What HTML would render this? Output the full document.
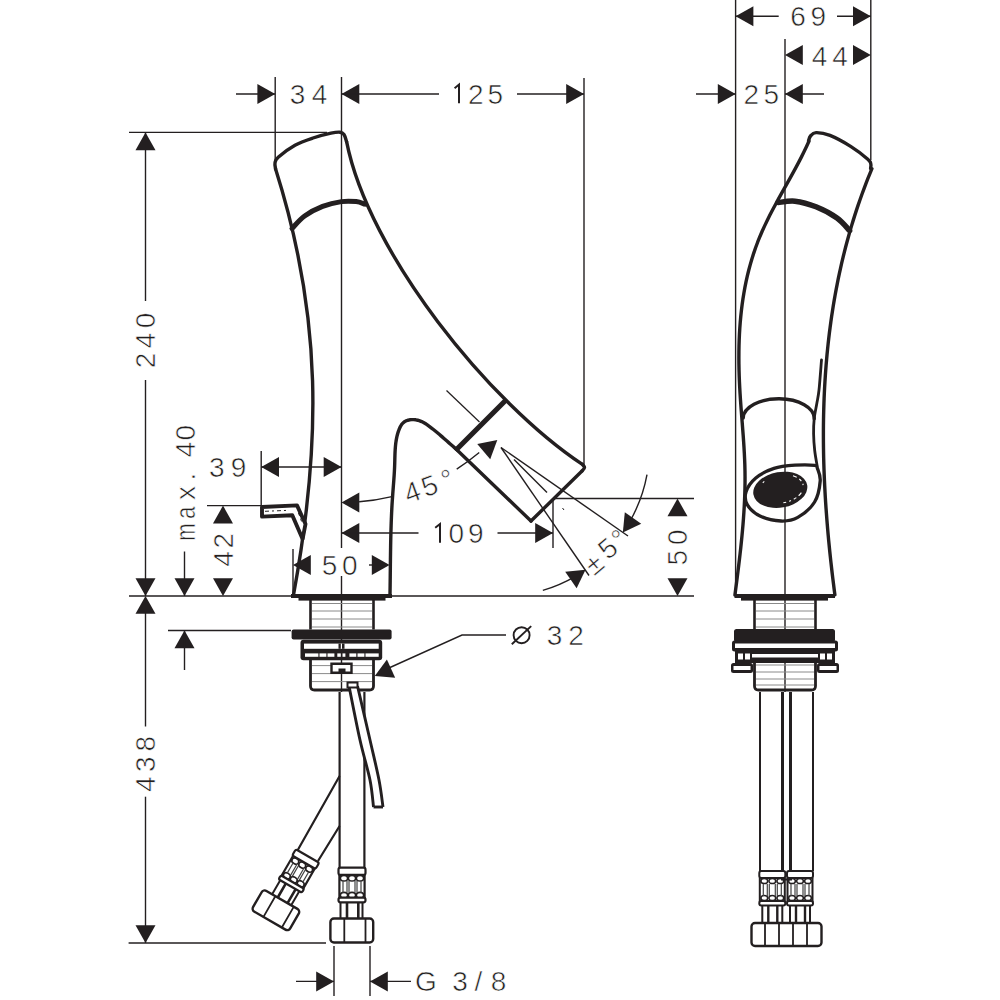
<!DOCTYPE html>
<html><head><meta charset="utf-8"><style>
html,body{margin:0;padding:0;background:#fff;width:1000px;height:1000px;overflow:hidden}
svg{display:block}
text{font-family:"Liberation Sans",sans-serif;fill:#231f20;stroke:#fff;stroke-width:0.6px}
</style></head><body>
<svg width="1000" height="1000" viewBox="0 0 1000 1000">
<line x1="275.2" y1="77" x2="275.2" y2="160" stroke="#231f20" stroke-width="1.4"/>
<line x1="341.5" y1="77" x2="341.5" y2="548" stroke="#231f20" stroke-width="1.4"/>
<line x1="341.5" y1="576" x2="341.5" y2="692" stroke="#231f20" stroke-width="1.4"/>
<line x1="584" y1="78" x2="584" y2="466" stroke="#231f20" stroke-width="1.4"/>
<line x1="236" y1="94" x2="275" y2="94" stroke="#231f20" stroke-width="1.4"/>
<path d="M275.2,94 L257.4,104 L257.4,84 Z" fill="#231f20"/>
<path d="M341.5,94 L359.3,84 L359.3,104 Z" fill="#231f20"/>
<line x1="341.5" y1="94" x2="439" y2="94" stroke="#231f20" stroke-width="1.4"/>
<line x1="517" y1="94" x2="584" y2="94" stroke="#231f20" stroke-width="1.4"/>
<path d="M584,94 L566.2,104 L566.2,84 Z" fill="#231f20"/>
<text x="297.6" y="104.1" font-size="28" text-anchor="middle">3</text>
<text x="319.6" y="104.1" font-size="28" text-anchor="middle">4</text>
<text x="475.8" y="103.8" font-size="28" text-anchor="middle">2</text>
<text x="495.4" y="103.8" font-size="28" text-anchor="middle">5</text>
<path d="M459,103.2 V84.6 L454.6,88.2" fill="none" stroke="#231f20" stroke-width="2" stroke-linejoin="miter"/>
<line x1="129" y1="132.4" x2="327" y2="132.4" stroke="#231f20" stroke-width="1.4"/>
<line x1="145.5" y1="132.4" x2="145.5" y2="301" stroke="#231f20" stroke-width="1.4"/>
<path d="M145.5,132.4 L155.5,150.2 L135.5,150.2 Z" fill="#231f20"/>
<line x1="145.5" y1="380" x2="145.5" y2="596" stroke="#231f20" stroke-width="1.4"/>
<path d="M145.5,596 L135.5,578.2 L155.5,578.2 Z" fill="#231f20"/>
<path d="M145.5,596 L155.5,613.8 L135.5,613.8 Z" fill="#231f20"/>
<line x1="145.5" y1="613" x2="145.5" y2="726.5" stroke="#231f20" stroke-width="1.4"/>
<line x1="145.5" y1="796.7" x2="145.5" y2="943" stroke="#231f20" stroke-width="1.4"/>
<path d="M145.5,943 L135.5,925.2 L155.5,925.2 Z" fill="#231f20"/>
<g transform="translate(154,0) rotate(-90)"><text x="-360.5" y="0.8" font-size="28" text-anchor="middle">2</text><text x="-340.6" y="0.8" font-size="28" text-anchor="middle">4</text><text x="-320.4" y="0.8" font-size="28" text-anchor="middle">0</text></g>
<g transform="translate(153.7,0) rotate(-90)"><text x="-784.1" y="0.8" font-size="28" text-anchor="middle">4</text><text x="-764.1" y="0.8" font-size="28" text-anchor="middle">3</text><text x="-743.6" y="0.8" font-size="28" text-anchor="middle">8</text></g>
<line x1="129" y1="596" x2="292" y2="596" stroke="#231f20" stroke-width="1.4"/>
<line x1="391" y1="596" x2="694" y2="596" stroke="#231f20" stroke-width="1.4"/>
<line x1="168" y1="630.5" x2="291" y2="630.5" stroke="#231f20" stroke-width="1.4"/>
<line x1="128.6" y1="943" x2="326" y2="943" stroke="#231f20" stroke-width="1.4"/>
<line x1="184.5" y1="551.5" x2="184.5" y2="596" stroke="#231f20" stroke-width="1.4"/>
<path d="M184.5,596 L174.5,578.2 L194.5,578.2 Z" fill="#231f20"/>
<path d="M184.5,630.5 L194.5,648.3 L174.5,648.3 Z" fill="#231f20"/>
<line x1="184.5" y1="630.5" x2="184.5" y2="670" stroke="#231f20" stroke-width="1.4"/>
<g transform="translate(193.7,0) rotate(-90)"><text transform="translate(-532.1,0.8) scale(0.74,1)" font-size="28" text-anchor="middle">m</text><text transform="translate(-512.7,0.8) scale(0.8,1)" font-size="28" text-anchor="middle">a</text><text x="-493.1" y="0.8" font-size="28" text-anchor="middle">x</text><text x="-476.5" y="0.8" font-size="28" text-anchor="middle">.</text><text x="-449.7" y="0.8" font-size="28" text-anchor="middle">4</text><text x="-432.7" y="0.8" font-size="28" text-anchor="middle">0</text></g>
<path d="M223,505.6 L233,523.4 L213,523.4 Z" fill="#231f20"/>
<path d="M223,596 L213,578.2 L233,578.2 Z" fill="#231f20"/>
<g transform="translate(231.7,0) rotate(-90)"><text x="-559" y="0.8" font-size="28" text-anchor="middle">4</text><text x="-540.6" y="0.8" font-size="28" text-anchor="middle">2</text></g>
<line x1="207" y1="505.6" x2="261" y2="505.6" stroke="#231f20" stroke-width="1.4"/>
<line x1="261.2" y1="451" x2="261.2" y2="506" stroke="#231f20" stroke-width="1.4"/>
<line x1="261.2" y1="467" x2="341.5" y2="467" stroke="#231f20" stroke-width="1.4"/>
<path d="M261.2,467 L279,457 L279,477 Z" fill="#231f20"/>
<path d="M341.5,467 L323.7,477 L323.7,457 Z" fill="#231f20"/>
<text x="216.8" y="477.3" font-size="28" text-anchor="middle">3</text>
<text x="238.6" y="477.3" font-size="28" text-anchor="middle">9</text>
<line x1="293" y1="549" x2="293" y2="595" stroke="#231f20" stroke-width="1.4"/>
<path d="M293,565 L310.8,555 L310.8,575 Z" fill="#231f20"/>
<path d="M389.6,565 L371.8,575 L371.8,555 Z" fill="#231f20"/>
<line x1="369" y1="565" x2="373" y2="565" stroke="#231f20" stroke-width="1.4"/>
<text x="329.5" y="574.8" font-size="28" text-anchor="middle">5</text>
<text x="349.8" y="574.8" font-size="28" text-anchor="middle">0</text>
<path d="M341.5,502.5 L359.3,492.5 L359.3,512.5 Z" fill="#231f20"/>
<path d="M359.12,501.81 A213.5,213.5 0 0 0 391.84,496.6" fill="none" stroke="#231f20" stroke-width="1.4" />
<path d="M497.3,440 L490.21,459.15 L477.26,443.91 Z" fill="#231f20"/>
<path d="M456.71,469.06 A213.5,213.5 0 0 0 479.24,452.55" fill="none" stroke="#231f20" stroke-width="1.4" />
<g transform="translate(415.2,500.4) rotate(-20)"><text x="0" y="0.8" font-size="28" text-anchor="middle">4</text><text x="18.6" y="0.8" font-size="28" text-anchor="middle">5</text><text x="37.6" y="0.8" font-size="28" text-anchor="middle">°</text></g>
<path d="M341.5,533 L359.3,523 L359.3,543 Z" fill="#231f20"/>
<line x1="341.5" y1="533" x2="418.5" y2="533" stroke="#231f20" stroke-width="1.4"/>
<line x1="497.5" y1="533" x2="553" y2="533" stroke="#231f20" stroke-width="1.4"/>
<path d="M553,533 L535.2,543 L535.2,523 Z" fill="#231f20"/>
<line x1="553" y1="500" x2="553" y2="548" stroke="#231f20" stroke-width="1.4"/>
<text x="456.4" y="543.3" font-size="28" text-anchor="middle">0</text>
<text x="475.9" y="543.3" font-size="28" text-anchor="middle">9</text>
<path d="M440,542.7 V524 L435.2,527.8" fill="none" stroke="#231f20" stroke-width="2" stroke-linejoin="miter"/>
<line x1="554.5" y1="498.5" x2="694" y2="498.5" stroke="#231f20" stroke-width="1.4"/>
<path d="M677.5,498.5 L687.5,516.3 L667.5,516.3 Z" fill="#231f20"/>
<path d="M677.5,596 L667.5,578.2 L687.5,578.2 Z" fill="#231f20"/>
<g transform="translate(686.4,0) rotate(-90)"><text x="-557.8" y="0.8" font-size="28" text-anchor="middle">5</text><text x="-537.2" y="0.8" font-size="28" text-anchor="middle">0</text></g>
<line x1="501" y1="447.5" x2="628" y2="536" stroke="#231f20" stroke-width="1.4"/>
<line x1="501" y1="447.5" x2="589" y2="575.5" stroke="#231f20" stroke-width="1.4"/>
<line x1="514" y1="459.5" x2="547" y2="492.5" stroke="#231f20" stroke-width="1.4"/>
<line x1="562.5" y1="508" x2="564" y2="510" stroke="#231f20" stroke-width="1"/>
<path d="M647,474.65 A149,149 0 0 1 629.54,522" fill="none" stroke="#231f20" stroke-width="1.4" />
<path d="M622.85,532.54 L624.8,512.21 L641.22,523.63 Z" fill="#231f20"/>
<path d="M542.82,590.36 A149,149 0 0 0 575,576.54" fill="none" stroke="#231f20" stroke-width="1.4" />
<path d="M585.54,569.85 L576.63,588.22 L565.21,571.8 Z" fill="#231f20"/>
<g transform="translate(613.5,555.1) rotate(-40)"><text x="-20.5" y="3.8" font-size="28" text-anchor="middle">±</text><text x="0" y="0.8" font-size="28" text-anchor="middle">5</text><text x="15.4" y="0.8" font-size="28" text-anchor="middle">°</text></g>
<path d="M380,672 L462,635 L506,635" fill="none" stroke="#231f20" stroke-width="1.4" />
<path d="M374.8,676 L386.92,659.57 L395.14,677.81 Z" fill="#231f20"/>
<text x="554.5" y="644.8" font-size="28" text-anchor="middle">3</text>
<text x="576" y="644.8" font-size="28" text-anchor="middle">2</text>
<circle cx="521.6" cy="635.2" r="8" fill="none" stroke="#231f20" stroke-width="1.9"/><line x1="511.8" y1="644.2" x2="531.2" y2="626.1" stroke="#231f20" stroke-width="1.9"/>
<line x1="334" y1="946" x2="334" y2="996" stroke="#231f20" stroke-width="1.4"/>
<line x1="370" y1="946" x2="370" y2="996" stroke="#231f20" stroke-width="1.4"/>
<line x1="296" y1="981.4" x2="334" y2="981.4" stroke="#231f20" stroke-width="1.4"/>
<path d="M334,981.4 L316.2,991.4 L316.2,971.4 Z" fill="#231f20"/>
<path d="M370,981.4 L387.8,971.4 L387.8,991.4 Z" fill="#231f20"/>
<line x1="370" y1="981.4" x2="411" y2="981.4" stroke="#231f20" stroke-width="1.4"/>
<text x="426" y="990.8" font-size="28" text-anchor="middle">G</text>
<text x="460" y="990.8" font-size="28" text-anchor="middle">3</text>
<text x="478.5" y="990.8" font-size="28" text-anchor="middle">/</text>
<text x="498.5" y="990.8" font-size="28" text-anchor="middle">8</text>
<line x1="735.6" y1="0" x2="735.6" y2="596" stroke="#231f20" stroke-width="1.4"/>
<line x1="785" y1="39" x2="785" y2="692" stroke="#231f20" stroke-width="1.4"/>
<line x1="870.8" y1="0" x2="870.8" y2="160" stroke="#231f20" stroke-width="1.4"/>
<path d="M735.6,16.3 L753.4,6.3 L753.4,26.3 Z" fill="#231f20"/>
<line x1="735.6" y1="16.3" x2="778.7" y2="16.3" stroke="#231f20" stroke-width="1.4"/>
<line x1="837" y1="16.3" x2="870.8" y2="16.3" stroke="#231f20" stroke-width="1.4"/>
<path d="M870.8,16.3 L853,26.3 L853,6.3 Z" fill="#231f20"/>
<text x="798" y="26.4" font-size="28" text-anchor="middle">6</text>
<text x="818.4" y="26.4" font-size="28" text-anchor="middle">9</text>
<path d="M785,55 L802.8,45 L802.8,65 Z" fill="#231f20"/>
<path d="M870.8,55 L853,65 L853,45 Z" fill="#231f20"/>
<text x="819.6" y="65.6" font-size="28" text-anchor="middle">4</text>
<text x="840" y="65.6" font-size="28" text-anchor="middle">4</text>
<line x1="696" y1="94" x2="735.6" y2="94" stroke="#231f20" stroke-width="1.4"/>
<path d="M735.6,94 L717.8,104 L717.8,84 Z" fill="#231f20"/>
<path d="M785,94 L802.8,84 L802.8,104 Z" fill="#231f20"/>
<line x1="785" y1="94" x2="824" y2="94" stroke="#231f20" stroke-width="1.4"/>
<text x="751.2" y="104" font-size="28" text-anchor="middle">2</text>
<text x="771.2" y="104" font-size="28" text-anchor="middle">5</text>
<path d="M293.5,595 C321.28,443.44 322.5,317.3 275.6,169" fill="none" stroke="#231f20" stroke-width="3.4" stroke-linejoin="round" stroke-linecap="round"/>
<path d="M275.6,169 C275.5,168 274.57,164.97 275,163 C275.43,161.03 274.87,160.17 278.2,157.2 C281.53,154.23 289.2,148.4 295,145.2 C300.8,142 307,140 313,138 C319,136 326.5,134.17 331,133.2 C335.5,132.23 337.83,131.97 340,132.2 C342.17,132.43 342.9,133.03 344,134.6 C345.1,136.17 346.17,140.43 346.6,141.6" fill="none" stroke="#231f20" stroke-width="3.4" stroke-linejoin="round" stroke-linecap="round"/>
<path d="M346.6,141.6 C368.64,253.59 489.58,402.86 582.4,464.4" fill="none" stroke="#231f20" stroke-width="3.4" stroke-linejoin="round" stroke-linecap="round"/>
<path d="M582.4,464.4 C582.75,464.92 584.57,466.4 584.5,467.5 C584.43,468.6 582.42,470.42 582,471" fill="none" stroke="#231f20" stroke-width="3.4" stroke-linejoin="round" stroke-linecap="round"/>
<path d="M582,471 L531,521" fill="none" stroke="#231f20" stroke-width="3.4" stroke-linejoin="round" stroke-linecap="round"/>
<path d="M531,521 L456,449" fill="none" stroke="#231f20" stroke-width="3.4" stroke-linejoin="round" stroke-linecap="round"/>
<path d="M456.01,448.99 L454.47,447.65 L452.94,446.32 L451.44,444.99 L449.94,443.66 L448.45,442.35 L446.96,441.03 L445.48,439.73 L444,438.43 L442.51,437.14 L441.02,435.86 L439.53,434.58 L438.02,433.31 L436.5,432.05 L434.97,430.79 L433.42,429.54 L431.84,428.3 L430.25,427.07 L428.62,425.85 L426.97,424.67 L425.26,423.54 L423.5,422.51 L421.67,421.59 L419.76,420.82 L417.78,420.23 L415.74,419.81 L413.68,419.6 L411.65,419.58 L409.66,419.79 L407.77,420.23 L405.99,420.9 L404.37,421.83 L402.94,423.01 L401.71,424.45 L400.67,426.09 L399.77,427.87 L398.99,429.74 L398.31,431.63 L397.71,433.55 L397.19,435.48 L396.74,437.42 L396.35,439.38 L396.03,441.36 L395.76,443.34 L395.53,445.34 L395.35,447.34 L395.21,449.35 L395.09,451.36 L395,453.38 L394.93,455.4 L394.87,457.42 L394.82,459.45 L394.77,461.47 L394.72,463.48 L394.65,465.5 L394.58,467.51 L394.48,469.51 L394.38,471.51 L394.26,473.5 L394.14,475.49 L394,477.48 L393.86,479.46 L393.72,481.45 L393.57,483.43 L393.41,485.41 L393.26,487.38 L393.11,489.36 L392.95,491.34 L392.8,493.32 L392.66,495.3 L392.52,497.28 L392.38,499.26 L392.25,501.24 L392.13,503.22 L392.01,505.21 L391.9,507.19 L391.8,509.18 L391.7,511.17 L391.6,513.16 L391.51,515.15 L391.43,517.14 L391.35,519.14 L391.27,521.13 L391.2,523.13 L391.13,525.12 L391.07,527.12 L391.01,529.11 L390.95,531.11 L390.9,533.11 L390.85,535.11 L390.8,537.11 L390.76,539.11 L390.72,541.11 L390.68,543.11 L390.64,545.11 L390.61,547.11 L390.58,549.11 L390.55,551.11 L390.52,553.11 L390.49,555.11 L390.46,557.11 L390.44,559.11 L390.42,561.11 L390.39,563.1 L390.37,565.1 L390.35,567.1 L390.33,569.1 L390.3,571.1 L390.28,573.09 L390.26,575.09 L390.24,577.08 L390.21,579.08 L390.19,581.07 L390.16,583.06 L390.14,585.05 L390.11,587.04 L390.08,589.03 L390.05,591.02 L390.02,593.01 L389.98,594.99" fill="none" stroke="#231f20" stroke-width="3.4" stroke-linejoin="round" stroke-linecap="round"/>
<path d="M292,228.5 C294.1,226.42 299.5,219.68 304.6,216 C309.7,212.32 316.47,208.8 322.6,206.4 C328.73,204 335.8,202.4 341.4,201.6 C347,200.8 352.3,201.17 356.2,201.6 C360.1,202.03 363.37,203.77 364.8,204.2" fill="none" stroke="#231f20" stroke-width="5" stroke-linejoin="round" stroke-linecap="round"/>
<line x1="506.5" y1="399.5" x2="455.5" y2="450.5" stroke="#231f20" stroke-width="5.2"/>
<line x1="446.5" y1="390.5" x2="479.5" y2="422" stroke="#231f20" stroke-width="1.25"/>
<rect x="291" y="594" width="101" height="4" fill="#231f20"/>
<rect x="298.5" y="597" width="87" height="3.6" fill="#231f20"/>
<path d="M262,507 L297,505.4 L305.5,524 L302.6,539 L292.3,515.2 L262,516.6Z" fill="#fff" stroke="#231f20" stroke-width="3.9" stroke-linejoin="round" stroke-linecap="round"/>
<path d="M265,511.3 L289,510.3" stroke="#231f20" stroke-width="1" stroke-dasharray="4 3 2 3"/>
<path d="M298.5,513 L302.5,524" stroke="#231f20" stroke-width="1" stroke-dasharray="3 3"/>
<path d="M310.5,600 V629.6 M373.5,600 V629.6" stroke="#231f20" stroke-width="2.6"/>
<line x1="312" y1="603.5" x2="372" y2="603.5" stroke="#8a8a8a" stroke-width="1"/>
<line x1="312" y1="611" x2="372" y2="611" stroke="#8a8a8a" stroke-width="1"/>
<line x1="312" y1="619" x2="372" y2="619" stroke="#8a8a8a" stroke-width="1"/>
<line x1="312" y1="627" x2="372" y2="627" stroke="#8a8a8a" stroke-width="1"/>
<rect x="291.6" y="629.6" width="100" height="9.8" rx="2" fill="#231f20"/>
<rect x="300.5" y="639.8" width="81.7" height="20.5" rx="3" fill="#231f20"/>
<rect x="304" y="643.6" width="74.7" height="5.2" fill="#fff"/>
<rect x="338.5" y="643.6" width="6" height="5.2" fill="#231f20"/><rect x="340.8" y="643.6" width="1.2" height="5.2" fill="#fff"/>
<rect x="305" y="653.4" width="13.399999999999977" height="3.4" fill="#fff"/>
<rect x="319.5" y="653.4" width="6.899999999999977" height="3.4" fill="#fff"/>
<rect x="327.5" y="653.4" width="6.899999999999977" height="3.4" fill="#fff"/>
<rect x="337.3" y="653.4" width="3.5" height="3.4" fill="#fff"/>
<rect x="342.5" y="653.4" width="2.8999999999999773" height="3.4" fill="#fff"/>
<rect x="349.4" y="653.4" width="6.900000000000034" height="3.4" fill="#fff"/>
<rect x="357.5" y="653.4" width="6.899999999999977" height="3.4" fill="#fff"/>
<rect x="365.5" y="653.4" width="13.199999999999989" height="3.4" fill="#fff"/>
<path d="M310.5,659.5 V686 Q310.5,690 314.5,690 H369.5 Q373.5,690 373.5,686 V659.5" fill="none" stroke="#231f20" stroke-width="2.8"/>
<line x1="312" y1="665.6" x2="372" y2="665.6" stroke="#8a8a8a" stroke-width="1"/>
<line x1="312" y1="673.6" x2="372" y2="673.6" stroke="#8a8a8a" stroke-width="1"/>
<line x1="312" y1="681.6" x2="372" y2="681.6" stroke="#8a8a8a" stroke-width="1"/>
<path d="M331.5,663.8 H351.5 V672.8 H331.5 Z" fill="#fff" stroke="#231f20" stroke-width="2.4"/><rect x="338.5" y="668.5" width="7" height="4" fill="#231f20"/>
<line x1="339.6" y1="692" x2="339.6" y2="868" stroke="#231f20" stroke-width="2.2"/>
<line x1="364.4" y1="692" x2="364.4" y2="868" stroke="#231f20" stroke-width="2.2"/>
<path d="M339.6,776 L297.5,850.5 M339.6,826 L318,861" stroke="#231f20" stroke-width="2.2" fill="none"/>
<path d="M349,686 C350.83,695 356.5,724.33 360,740 C363.5,755.67 367.75,768.83 370,780 C372.25,791.17 372.92,802.5 373.5,807 L383,807 C382.33,802.5 381.17,791.17 379,780 C376.83,768.83 373.58,755.67 370,740 C366.42,724.33 359.58,695 357.5,686Z" fill="#fff" stroke="none"/>
<path d="M349,686 C350.83,695 356.5,724.33 360,740 C363.5,755.67 367.75,768.83 370,780 C372.25,791.17 372.92,802.5 373.5,807" fill="none" stroke="#231f20" stroke-width="2.9" />
<path d="M357.5,686 C359.58,695 366.42,724.33 370,740 C373.58,755.67 376.83,768.83 379,780 C381.17,791.17 382.33,802.5 383,807" fill="none" stroke="#231f20" stroke-width="2.9" />
<line x1="373.5" y1="807" x2="383" y2="807" stroke="#231f20" stroke-width="2.9"/>
<rect x="347.5" y="682.5" width="10" height="5" fill="#fff" stroke="#231f20" stroke-width="2"/>
<g transform="translate(352,867.7) rotate(0)" fill="none" stroke="#231f20"><rect x="-13.5" y="0" width="27" height="7.2" rx="2" fill="#fff" stroke-width="2.2"/><path d="M-12.6,7.2 V31 M12.6,7.2 V31" stroke-width="2.2"/><ellipse cx="-8" cy="10.5" rx="3.6" ry="2.8" stroke-width="1.6"/><ellipse cx="-8" cy="27.5" rx="3.6" ry="2.8" stroke-width="1.6"/><ellipse cx="0" cy="10.5" rx="3.6" ry="2.8" stroke-width="1.6"/><ellipse cx="0" cy="27.5" rx="3.6" ry="2.8" stroke-width="1.6"/><ellipse cx="8" cy="10.5" rx="3.6" ry="2.8" stroke-width="1.6"/><ellipse cx="8" cy="27.5" rx="3.6" ry="2.8" stroke-width="1.6"/><path d="M-9,13 V25 M-5,13 V25 M-3,13 V25 M3,13 V25 M5,13 V25 M9,13 V25" stroke="#444" stroke-width="1.2"/><rect x="-13.5" y="30" width="27" height="4.6" rx="2" fill="#fff" stroke-width="2.2"/><path d="M-11.5,34.6 V50.8 M10.5,34.6 V50.8" stroke-width="2"/><path d="M-5,34.6 V50.8 M6.3,34.6 V50.8" stroke-width="2.6"/><rect x="-21.6" y="50.8" width="42.8" height="24" rx="3.5" fill="#fff" stroke-width="2.4"/><path d="M-7.7,51 V75 M13.5,51 V75" stroke-width="1.8"/></g>
<g transform="translate(307.5,856) rotate(30)" fill="none" stroke="#231f20"><rect x="-13.5" y="0" width="27" height="7.2" rx="2" fill="#fff" stroke-width="2.2"/><path d="M-12.6,7.2 V31 M12.6,7.2 V31" stroke-width="2.2"/><ellipse cx="-8" cy="10.5" rx="3.6" ry="2.8" stroke-width="1.6"/><ellipse cx="-8" cy="27.5" rx="3.6" ry="2.8" stroke-width="1.6"/><ellipse cx="0" cy="10.5" rx="3.6" ry="2.8" stroke-width="1.6"/><ellipse cx="0" cy="27.5" rx="3.6" ry="2.8" stroke-width="1.6"/><ellipse cx="8" cy="10.5" rx="3.6" ry="2.8" stroke-width="1.6"/><ellipse cx="8" cy="27.5" rx="3.6" ry="2.8" stroke-width="1.6"/><path d="M-9,13 V25 M-5,13 V25 M-3,13 V25 M3,13 V25 M5,13 V25 M9,13 V25" stroke="#444" stroke-width="1.2"/><rect x="-13.5" y="30" width="27" height="4.6" rx="2" fill="#fff" stroke-width="2.2"/><path d="M-11.5,34.6 V50.8 M10.5,34.6 V50.8" stroke-width="2"/><path d="M-5,34.6 V50.8 M6.3,34.6 V50.8" stroke-width="2.6"/><rect x="-21.6" y="50.8" width="42.8" height="24" rx="3.5" fill="#fff" stroke-width="2.4"/><path d="M-7.7,51 V75 M13.5,51 V75" stroke-width="1.8"/></g>
<path d="M734.94,595.01 L735.71,589.09 L736.47,583.17 L737.23,577.25 L737.97,571.34 L738.7,565.43 L739.41,559.51 L740.1,553.6 L740.76,547.69 L741.38,541.78 L741.97,535.86 L742.53,529.95 L743.03,524.04 L743.49,518.13 L743.9,512.21 L744.25,506.3 L744.55,500.38 L744.78,494.47 L744.94,488.55 L745.03,482.63 L745.04,476.71 L744.98,470.79 L744.83,464.87 L744.61,458.94 L744.32,453.02 L743.98,447.09 L743.59,441.16 L743.17,435.22 L742.72,429.29 L742.26,423.35 L741.79,417.41 L741.33,411.47 L740.88,405.52 L740.46,399.57 L740.07,393.62 L739.73,387.67 L739.44,381.71 L739.2,375.76 L739.03,369.8 L738.92,363.85 L738.88,357.9 L738.91,351.96 L739.01,346.02 L739.19,340.1 L739.45,334.18 L739.8,328.27 L740.23,322.38 L740.76,316.51 L741.39,310.65 L742.11,304.81 L742.93,298.99 L743.87,293.19 L744.91,287.41 L746.06,281.66 L747.34,275.94 L748.73,270.24 L750.25,264.57 L751.89,258.94 L753.67,253.33 L755.58,247.76 L757.63,242.23 L759.83,236.73 L762.16,231.27 L764.63,225.85 L767.21,220.46 L769.89,215.1 L772.65,209.76 L775.48,204.45 L778.36,199.16 L781.27,193.88 L784.21,188.62 L787.15,183.36 L790.08,178.11 L792.98,172.87 L795.84,167.62 L798.64,162.37 L801.36,157.11 L804,151.84 L806.53,146.56 L808.94,141.26" fill="none" stroke="#231f20" stroke-width="3.4" stroke-linejoin="round" stroke-linecap="round"/>
<path d="M808.5,141 C808.83,140.17 809.25,137.4 810.5,136 C811.75,134.6 812.75,132.7 816,132.6 C819.25,132.5 824.17,133.07 830,135.4 C835.83,137.73 844.7,142.63 851,146.6 C857.3,150.57 864.5,156.3 867.8,159.2 C871.1,162.1 870.33,162.45 870.8,164 C871.27,165.55 870.63,167.75 870.6,168.5" fill="none" stroke="#231f20" stroke-width="3.4" stroke-linejoin="round" stroke-linecap="round"/>
<path d="M871.92,168.71 L869.8,173.84 L867.73,178.99 L865.73,184.15 L863.77,189.33 L861.87,194.52 L860.01,199.71 L858.22,204.92 L856.47,210.15 L854.77,215.38 L853.13,220.62 L851.53,225.88 L849.98,231.14 L848.49,236.42 L847.04,241.7 L845.64,246.99 L844.28,252.3 L842.98,257.61 L841.72,262.93 L840.51,268.26 L839.34,273.6 L838.22,278.95 L837.15,284.31 L836.12,289.67 L835.13,295.04 L834.18,300.42 L833.28,305.8 L832.43,311.19 L831.61,316.59 L830.84,322 L830.1,327.41 L829.41,332.82 L828.76,338.25 L828.15,343.67 L827.58,349.1 L827.04,354.54 L826.55,359.98 L826.09,365.43 L825.67,370.88 L825.29,376.33 L824.94,381.79 L824.63,387.25 L824.36,392.72 L824.12,398.18 L823.92,403.65 L823.75,409.13 L823.61,414.6 L823.51,420.08 L823.44,425.56 L823.4,431.03 L823.4,436.52 L823.42,442 L823.48,447.48 L823.56,452.96 L823.68,458.45 L823.83,463.93 L824,469.41 L824.21,474.89 L824.44,480.38 L824.7,485.86 L824.98,491.34 L825.29,496.81 L825.63,502.29 L826,507.77 L826.39,513.24 L826.8,518.71 L827.24,524.17 L827.7,529.64 L828.18,535.1 L828.69,540.56 L829.22,546.01 L829.77,551.46 L830.34,556.91 L830.94,562.35 L831.55,567.79 L832.18,573.22 L832.83,578.65 L833.51,584.07 L834.19,589.49 L834.9,594.9" fill="none" stroke="#231f20" stroke-width="3.4" stroke-linejoin="round" stroke-linecap="round"/>
<path d="M778.2,202.6 C781,202.37 788.7,200.5 795,201.2 C801.3,201.9 809,204 816,206.8 C823,209.6 831.4,214.03 837,218 C842.6,221.97 847.5,228.5 849.6,230.6" fill="none" stroke="#231f20" stroke-width="5.5" stroke-linejoin="round" stroke-linecap="round"/>
<path d="M743.2,418 A35.5,19.5 0 0 1 814.2,418.6" fill="none" stroke="#231f20" stroke-width="3.4" stroke-linejoin="round" stroke-linecap="round"/>
<path d="M821.5,360 C821.08,365 819.77,382.83 819,390 C818.23,397.17 817.7,398.23 816.9,403 C816.1,407.77 814.75,413.43 814.2,418.6 C813.65,423.77 813.52,428.68 813.6,434 C813.68,439.32 814.13,445.33 814.7,450.5 C815.27,455.67 816.62,462.58 817,465" fill="none" stroke="#231f20" stroke-width="2.8" stroke-linejoin="round" stroke-linecap="round"/>
<path d="M814.6,465.4 C810.87,464.87 801.77,464.7 795,465.2 C788.23,465.7 780.53,466.27 774,468.4 C767.47,470.53 760.47,474.07 755.8,478 C751.13,481.93 747.4,487.53 746,492 C744.6,496.47 745.07,500.8 747.4,504.8 C749.73,508.8 754.4,513.3 760,516 C765.6,518.7 774.7,520.77 781,521 C787.3,521.23 792.2,520.57 797.8,517.4 C803.4,514.23 810.87,508.07 814.6,502 C818.33,495.93 819.73,486.6 820.2,481 C820.67,475.4 818.33,471 817.4,468.4 C816.47,465.8 818.33,465.93 814.6,465.4Z" fill="none" stroke="#231f20" stroke-width="3.3" stroke-linejoin="round" stroke-linecap="round"/>
<ellipse cx="780.3" cy="489.8" rx="27.3" ry="17.8" transform="rotate(-10 780.3 489.8)" fill="#231f20"/>
<ellipse cx="781" cy="489" rx="22.5" ry="14" transform="rotate(-10 781 489)" fill="none" stroke="#fff" stroke-width="1.1" stroke-dasharray="4 3 3 3 2 3 3 40 2 30" stroke-dashoffset="-8"/>
<rect x="734.5" y="594" width="100.5" height="4" fill="#231f20"/>
<rect x="741" y="597" width="87" height="3.6" fill="#231f20"/>
<path d="M754.5,600 V629.6 M815.5,600 V629.6" stroke="#231f20" stroke-width="2.6"/>
<line x1="756" y1="603.5" x2="814" y2="603.5" stroke="#8a8a8a" stroke-width="1"/>
<line x1="756" y1="611" x2="814" y2="611" stroke="#8a8a8a" stroke-width="1"/>
<line x1="756" y1="619" x2="814" y2="619" stroke="#8a8a8a" stroke-width="1"/>
<line x1="756" y1="627" x2="814" y2="627" stroke="#8a8a8a" stroke-width="1"/>
<rect x="734" y="629" width="101" height="13" rx="2.5" fill="#231f20"/>
<rect x="732" y="640.5" width="106" height="11" rx="2.5" fill="#231f20"/>
<rect x="735" y="643.5" width="100" height="4.5" fill="#fff"/>
<rect x="735" y="651" width="100" height="12" fill="#231f20"/>
<rect x="738" y="653.5" width="5" height="6" fill="#fff"/><rect x="745" y="653.5" width="5" height="6" fill="#fff"/>
<rect x="820" y="653.5" width="5" height="6" fill="#fff"/><rect x="827" y="653.5" width="5" height="6" fill="#fff"/>
<rect x="752" y="654" width="66" height="3.5" fill="#fff"/>
<rect x="731" y="663" width="22" height="10" rx="2.5" fill="#231f20"/><rect x="733.5" y="666" width="17" height="4" fill="#fff"/>
<rect x="817" y="663" width="22" height="10" rx="2.5" fill="#231f20"/><rect x="819.5" y="666" width="17" height="4" fill="#fff"/>
<path d="M754.5,659 V686 Q754.5,690 758.5,690 H811.5 Q815.5,690 815.5,686 V659" fill="none" stroke="#231f20" stroke-width="2.8"/>
<line x1="756" y1="665" x2="814" y2="665" stroke="#8a8a8a" stroke-width="1"/>
<line x1="756" y1="672" x2="814" y2="672" stroke="#8a8a8a" stroke-width="1"/>
<line x1="756" y1="679" x2="814" y2="679" stroke="#8a8a8a" stroke-width="1"/>
<line x1="756" y1="685" x2="814" y2="685" stroke="#8a8a8a" stroke-width="1"/>
<path d="M760,692 V871 M813,692 V871" stroke="#231f20" stroke-width="2"/>
<path d="M782.5,692 V880 M790.5,692 V880" stroke="#231f20" stroke-width="3"/>
<line x1="781" y1="879.5" x2="792" y2="879.5" stroke="#231f20" stroke-width="2"/>
<g transform="translate(772.3,871)" fill="none" stroke="#231f20"><rect x="-13" y="0" width="26" height="7" rx="2" fill="#fff" stroke-width="2"/><path d="M-12.5,7 V31 M12.5,7 V31" stroke-width="2"/><ellipse cx="-8" cy="10" rx="3.4" ry="2.6" stroke-width="1.5"/><ellipse cx="-8" cy="27" rx="3.4" ry="2.6" stroke-width="1.5"/><ellipse cx="0" cy="10" rx="3.4" ry="2.6" stroke-width="1.5"/><ellipse cx="0" cy="27" rx="3.4" ry="2.6" stroke-width="1.5"/><ellipse cx="8" cy="10" rx="3.4" ry="2.6" stroke-width="1.5"/><ellipse cx="8" cy="27" rx="3.4" ry="2.6" stroke-width="1.5"/><path d="M-9,13 V25 M-5,13 V25 M-3,13 V25 M3,13 V25 M5,13 V25 M9,13 V25" stroke="#444" stroke-width="1.2"/><rect x="-13" y="30" width="26" height="4.5" rx="2" fill="#fff" stroke-width="2"/><path d="M-10,34.5 V52 M10,34.5 V52" stroke-width="2"/><path d="M-4,34.5 V52 M5,34.5 V52" stroke-width="2.4"/></g>
<g transform="translate(800,871)" fill="none" stroke="#231f20"><rect x="-13" y="0" width="26" height="7" rx="2" fill="#fff" stroke-width="2"/><path d="M-12.5,7 V31 M12.5,7 V31" stroke-width="2"/><ellipse cx="-8" cy="10" rx="3.4" ry="2.6" stroke-width="1.5"/><ellipse cx="-8" cy="27" rx="3.4" ry="2.6" stroke-width="1.5"/><ellipse cx="0" cy="10" rx="3.4" ry="2.6" stroke-width="1.5"/><ellipse cx="0" cy="27" rx="3.4" ry="2.6" stroke-width="1.5"/><ellipse cx="8" cy="10" rx="3.4" ry="2.6" stroke-width="1.5"/><ellipse cx="8" cy="27" rx="3.4" ry="2.6" stroke-width="1.5"/><path d="M-9,13 V25 M-5,13 V25 M-3,13 V25 M3,13 V25 M5,13 V25 M9,13 V25" stroke="#444" stroke-width="1.2"/><rect x="-13" y="30" width="26" height="4.5" rx="2" fill="#fff" stroke-width="2"/><path d="M-10,34.5 V52 M10,34.5 V52" stroke-width="2"/><path d="M-4,34.5 V52 M5,34.5 V52" stroke-width="2.4"/></g>
<rect x="751.5" y="923" width="70" height="23" rx="3.5" fill="#fff" stroke="#231f20" stroke-width="2.4"/>
<path d="M765,923.5 V945.5 M779,923.5 V945.5 M793,923.5 V945.5 M807,923.5 V945.5" stroke="#231f20" stroke-width="1.8"/>
</svg></body></html>
